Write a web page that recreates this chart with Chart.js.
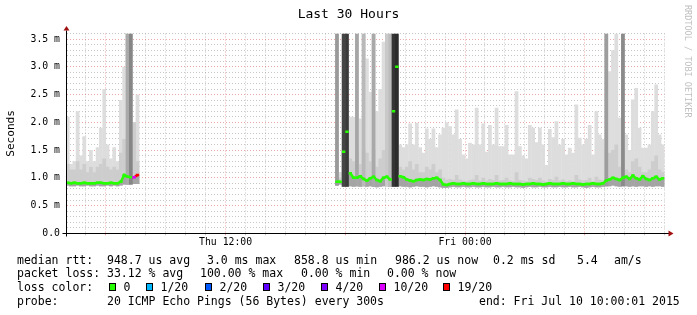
<!DOCTYPE html>
<html>
<head>
<meta charset="utf-8">
<script src="https://cdn.jsdelivr.net/npm/chart.js@4"></script>
<style>
body{margin:0;background:#fff}
#wrap{position:relative;width:697px;height:315px;overflow:hidden;font-family:'DejaVu Sans Mono',monospace;color:#000}
canvas{position:absolute;left:0;top:0}
#title{position:absolute;left:0;top:6px;width:697px;text-align:center;font-size:13px;line-height:15px;white-space:pre}
#mark{position:absolute;left:683px;top:5px;writing-mode:vertical-rl;font-size:8.5px;color:#c0c0c0;white-space:pre}
.t{position:absolute;white-space:pre;font-size:11.5px;line-height:14px}
.sq{position:absolute;width:5px;height:6px;border:1px solid #000}
</style>
</head>
<body>
<div id="wrap">
<canvas id="chart" width="697" height="315"></canvas>
<div id="title">Last 30 Hours</div>
<div id="mark">RRDTOOL / TOBI OETIKER</div>
<div id="legend"></div>
</div>
<script>
// time axis: 30 hours from Thu 04:00, one slot = 10 minutes
const hoursShown=30;
const startClock=4;
const slotHours=1/6;
const yTop=3.6;
const labelHours=[8,20];
const labelTexts=['Thu 12:00','Fri 00:00'];

// first block of data (slots 0..21), values in ms
const aMax=[2.1,1.25,1.3,2.2,1.4,1.75,1.3,1.5,1.3,1.55,1.9,2.6,1.6,1.35,1.55,1.3,2.4,3.0,3.6,3.6,2.0,2.5];
const aMid=[1.25,1.15,1.15,1.3,1.15,1.25,1.1,1.2,1.1,1.2,1.25,1.35,1.2,1.15,1.2,1.15,1.45,1.7,1.6,1.6,2.0,1.3];
const aMin=[0.86,0.85,0.85,0.86,0.85,0.85,0.86,0.85,0.85,0.86,0.85,0.85,0.86,0.85,0.86,0.85,0.86,0.88,0.88,0.88,0.89,0.89];
const aMed=[0.91,0.9,0.91,0.9,0.9,0.91,0.9,0.9,0.9,0.91,0.91,0.9,0.9,0.91,0.9,0.9,0.93,1.05,1.02,1.01,1.01,1.05];

// second block (slots 81..179)
const bStart=81;
const bMax=[3.6,1.1,3.6,3.6,2.1,2.1,3.6,2.07,3.6,3.15,
 2.55,3.6,2.2,2.6,3.45,3.6,3.6,3.6,3.6,1.6,
 1.55,1.6,1.98,1.6,1.99,1.55,1.45,1.89,1.7,1.89,
 1.55,1.78,1.9,2.0,1.93,1.78,2.23,1.7,1.42,1.35,
 1.63,1.6,2.26,1.6,1.98,1.47,1.95,1.6,2.26,1.57,
 1.57,1.95,1.42,1.42,2.56,1.57,1.4,1.35,1.95,1.9,
 1.64,1.9,1.6,1.23,1.88,1.73,2.02,1.6,1.7,1.42,
 1.54,1.45,2.32,1.72,1.6,1.7,1.95,1.42,2.2,1.78,
 1.7,3.6,2.92,3.3,3.6,2.08,3.6,1.78,1.5,2.41,
 2.62,1.9,1.54,1.54,1.6,2.2,2.68,1.78,1.6];
const bMid=[1.5,1.0,1.5,1.5,1.35,1.3,1.5,1.25,1.5,1.45,
 1.3,1.5,1.2,1.35,1.5,1.5,1.5,1.5,1.5,1.2,
 1.15,1.2,1.3,1.15,1.25,1.1,1.1,1.2,1.15,1.25,
 1.1,1.15,1.0,0.97,0.98,0.96,1.05,0.97,0.95,0.94,
 0.96,0.97,1.05,0.95,1.0,0.95,0.98,0.96,1.05,0.95,
 0.96,1.0,0.95,0.94,1.1,0.96,0.95,0.94,1.0,0.98,
 0.96,1.0,0.95,0.93,0.98,0.96,1.02,0.95,0.97,0.94,
 0.95,0.94,1.05,0.97,0.95,0.96,1.0,0.94,1.02,0.97,
 0.96,1.5,1.45,1.5,1.6,1.2,1.5,1.15,1.1,1.3,
 1.35,1.2,1.1,1.1,1.15,1.3,1.4,1.15,1.1];
const bMin=[0.86,0.88,0.84,0.84,0.85,0.84,0.85,0.84,0.85,0.84,
 0.85,0.84,0.83,0.84,0.85,0.85,0.84,0.84,0.84,0.85,
 0.84,0.84,0.83,0.84,0.85,0.84,0.84,0.83,0.84,0.85,
 0.84,0.83,0.82,0.82,0.83,0.84,0.83,0.83,0.84,0.83,
 0.83,0.84,0.83,0.83,0.84,0.83,0.83,0.84,0.83,0.83,
 0.84,0.83,0.83,0.84,0.83,0.83,0.82,0.83,0.84,0.83,
 0.83,0.84,0.83,0.83,0.84,0.83,0.83,0.84,0.83,0.83,
 0.84,0.83,0.83,0.84,0.83,0.82,0.83,0.84,0.83,0.83,
 0.84,0.85,0.85,0.86,0.85,0.84,0.85,0.85,0.84,0.85,
 0.84,0.85,0.85,0.84,0.85,0.84,0.85,0.85,0.84];
const bMed=[0.93,0.93,1.47,1.83,1.08,1.0,1.0,1.03,0.98,0.95,
 0.99,1.02,0.96,0.94,1.0,1.02,0.97,2.2,3.0,1.03,
 1.01,0.97,0.95,0.94,0.96,0.97,0.96,0.98,0.97,0.99,
 1.0,0.96,0.88,0.87,0.89,0.9,0.89,0.89,0.9,0.89,
 0.89,0.9,0.89,0.89,0.9,0.89,0.89,0.89,0.9,0.89,
 0.89,0.89,0.9,0.89,0.89,0.89,0.88,0.89,0.89,0.9,
 0.89,0.89,0.88,0.89,0.9,0.89,0.89,0.89,0.9,0.89,
 0.89,0.9,0.89,0.89,0.88,0.89,0.89,0.9,0.89,0.89,
 0.9,0.95,0.97,1.0,0.98,0.96,1.0,1.02,0.98,1.04,
 0.99,0.97,1.03,0.98,0.96,0.99,1.02,0.97,0.99];

// slots whose pings go off the top of the graph, and their smoke shade
const tallSlot=[18,19,81,83,84,87,89,92,96,97,98,99,162,167];
const tallGrey=['#aaaaaa','#868686','#9a9a9a','#454545','#3a3a3a','#a6a6a6','#b9b9b9','#a9a9a9','#c9c9c9','#bcbcbc','#353535','#2c2c2c','#9d9d9d','#8b8b8b'];

// loss per slot (out of 20), only non-zero ones
const lossSlot=[20,21];
const lossCount=[10,19];

const lossLevels=[0,1,2,3,4,10,19];
const lossNames=['0','1/20','2/20','3/20','4/20','10/20','19/20'];
const lossColors=['#26ff00','#00b8ff','#0059ff','#5e00ff','#7e00ff','#dd00ff','#ff0000'];

const legendRows=[
 [[17,'median rtt:'],[107,'948.7 us avg'],[207,'3.0 ms max'],[294,'858.8 us min'],[395,'986.2 us now'],[493,'0.2 ms sd'],[577,'5.4'],[614,'am/s']],
 [[17,'packet loss:'],[107,'33.12 % avg'],[200,'100.00 % max'],[301,'0.00 % min'],[387,'0.00 % now']],
 [[17,'loss color:']],
 [[17,'probe:'],[107,'20 ICMP Echo Pings (56 Bytes) every 300s'],[479,'end: Fri Jul 10 10:00:01 2015']]
];
const rowTops=[253,266,280,294];
const squareX=[109,146,205,263,321,379,443];

function lossColor(n){
 let c=lossColors[0];
 lossLevels.forEach((l,k)=>{if(n>=l)c=lossColors[k];});
 return c;
}
function slotX(i){return (i+0.5)*slotHours;}

const slots=[];
aMax.forEach((v,k)=>slots.push({i:k,max:v,mid:aMid[k],min:aMin[k],med:aMed[k]}));
bMax.forEach((v,k)=>slots.push({i:bStart+k,max:v,mid:bMid[k],min:bMin[k],med:bMed[k]}));
slots.forEach(s=>{const k=lossSlot.indexOf(s.i);s.loss=k<0?0:lossCount[k];});

const medPts=[];
slots.forEach(s=>{
 if(s.i===bStart) medPts.push({x:slotX(aMax.length),y:null,loss:0});
 medPts.push({x:slotX(s.i),y:s.med,loss:s.loss});
});

const barBase={type:'bar',grouped:false,barPercentage:1.12,categoryPercentage:1,borderWidth:0};

const red='rgba(200,0,0,0.35)';
const grey='rgba(130,130,130,0.45)';
const axisFont={family:"'DejaVu Sans Mono', monospace",size:9.8};

const axisArrows={
 id:'axisArrows',
 afterDraw(chart){
  const {ctx,chartArea:a}=chart;
  const x0=Math.round(a.left-0.5)+0.5, y0=Math.round(a.bottom-0.5)+0.5;
  ctx.save();
  ctx.strokeStyle='#000';ctx.lineWidth=1;
  ctx.beginPath();
  ctx.moveTo(x0-4,y0);ctx.lineTo(a.right+5,y0);
  ctx.moveTo(x0,y0+3);ctx.lineTo(x0,a.top-3);
  ctx.stroke();
  ctx.fillStyle='#a01010';
  ctx.beginPath();
  ctx.moveTo(a.right+4,y0-3);ctx.lineTo(a.right+9,y0);ctx.lineTo(a.right+4,y0+3);ctx.fill();
  ctx.beginPath();
  ctx.moveTo(x0-3,a.top-3);ctx.lineTo(x0,a.top-7.5);ctx.lineTo(x0+3,a.top-3);ctx.fill();
  ctx.restore();
 }
};

new Chart(document.getElementById('chart'),{
 type:'bar',
 data:{datasets:[
  {...barBase,order:5,backgroundColor:'#dddddd',data:slots.map(s=>({x:slotX(s.i),y:[s.min,s.max]}))},
  {...barBase,order:4,backgroundColor:'#cdcdcd',data:slots.map(s=>({x:slotX(s.i),y:[s.min,s.mid]}))},
  {...barBase,order:3,backgroundColor:'#a4a4a4',data:slots.map(s=>({x:slotX(s.i),y:[s.min,s.med]}))},
  {...barBase,order:2,backgroundColor:c=>tallGrey[c.dataIndex],
   data:tallSlot.map(i=>{const s=slots.find(o=>o.i===i);return {x:slotX(i),y:[s.min,yTop]};})},
  {type:'line',order:0,data:medPts,borderColor:lossColors[0],borderWidth:2.5,tension:0,spanGaps:false,
   pointStyle:'line',pointRadius:1.7,pointHoverRadius:1.7,pointBorderWidth:2.5,
   pointBorderColor:c=>lossColor(c.raw?c.raw.loss:0),
   segment:{borderColor:c=>Math.abs(c.p1.parsed.y-c.p0.parsed.y)>0.3?'rgba(0,0,0,0)':lossColor(medPts[c.p1DataIndex].loss)}}
 ]},
 options:{
  responsive:false,animation:false,events:[],devicePixelRatio:1,
  layout:{padding:{left:0,right:32.5,top:33.5,bottom:0}},
  plugins:{legend:{display:false},tooltip:{enabled:false},title:{display:false}},
  scales:{
   x:{type:'linear',min:0,max:hoursShown,offset:false,z:1,
    afterFit:s=>{s.height=81.7;},
    grid:{offset:false,drawTicks:true,tickLength:2,lineWidth:1,
     color:c=>(c.tick&&(Math.round(c.tick.value)+startClock)%6===0)?red:grey},
    border:{color:'#000',dash:[1,2]},
    ticks:{stepSize:1,autoSkip:false,maxRotation:0,padding:1,color:'#000',font:axisFont,
     callback:v=>{const k=labelHours.indexOf(Math.round(v));return k<0?'':labelTexts[k];}}},
   y:{min:0,max:yTop,z:1,
    afterFit:s=>{s.width=66;},
    grid:{drawTicks:false,lineWidth:1,
     color:c=>(c.tick&&Math.round(c.tick.value*10)%5===0)?red:grey},
    border:{color:'#000',dash:[1,2]},
    ticks:{stepSize:0.1,autoSkip:false,maxTicksLimit:100,padding:6,color:'#000',font:axisFont,
     callback:v=>{const k=Math.round(v*10);if(k%5)return '';return k===0?'0.0':(k/10).toFixed(1)+' m';}},
    title:{display:true,text:'Seconds',color:'#000',font:{family:"'DejaVu Sans Mono', monospace",size:11.1},padding:{top:4,bottom:0}}}
  }
 },
 plugins:[axisArrows]
});

// text legend under the graph
const legend=document.getElementById('legend');
legendRows.forEach((row,r)=>row.forEach(([x,txt])=>{
 const d=document.createElement('div');
 d.className='t';d.style.left=x+'px';d.style.top=rowTops[r]+'px';d.textContent=txt;
 legend.appendChild(d);
}));
lossNames.forEach((name,k)=>{
 const q=document.createElement('div');
 q.className='sq';q.style.left=squareX[k]+'px';q.style.top='283px';q.style.background=lossColors[k];
 legend.appendChild(q);
 const d=document.createElement('div');
 d.className='t';d.style.left=(squareX[k]+14.5)+'px';d.style.top=rowTops[2]+'px';d.textContent=name;
 legend.appendChild(d);
});
</script>
</body>
</html>
